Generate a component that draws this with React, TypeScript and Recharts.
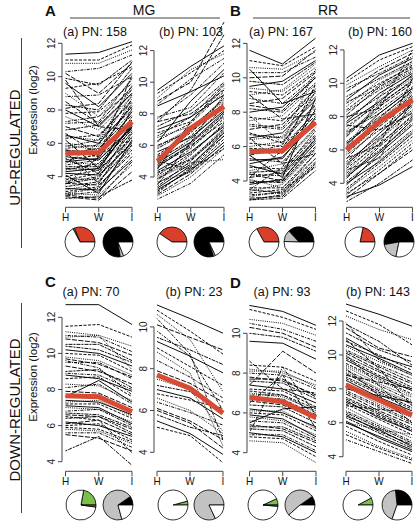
import React from 'react';
import { LineChart, Line, XAxis, YAxis, ReferenceLine, PieChart, Pie, Cell } from 'recharts';

const FONT = '"Liberation Sans", Arial, Helvetica, sans-serif';
const AXIS = '#444';
const RED = '#d84a33';

// stages on the x axis
const stages = ['H', 'W', 'I'];

// panel headings
const titlesUp = ['(a) PN: 158', '(b) PN: 103', '(a) PN: 167', '(b) PN: 160'];
const titlesDown = ['(a) PN: 70', '(b) PN: 23', '(a) PN: 93', '(b) PN: 143'];

// expression profiles [H, W, I] (log2), a readable subset of each panel
const upMgA = [
  [11.35, 11.45, 12.1], [11.0, 11.0, 11.9], [10.8, 10.8, 11.6], [10.3, 10.5, 11.3],
  [10.2, 9.0, 10.8], [9.9, 9.5, 11.0], [9.6, 8.2, 10.2], [9.3, 9.6, 10.6],
  [9.0, 7.6, 9.8], [8.8, 8.9, 10.0], [8.5, 7.2, 9.4], [8.3, 8.0, 10.5],
  [8.0, 7.0, 9.0], [7.8, 7.9, 9.6], [7.6, 6.8, 8.8], [7.3, 7.6, 9.2],
  [7.0, 6.4, 8.6], [6.8, 7.1, 9.0], [6.5, 6.0, 8.2], [6.3, 6.5, 8.5],
  [6.0, 5.8, 7.9], [5.8, 6.2, 8.0], [5.6, 5.4, 7.4], [5.4, 5.7, 7.7],
  [5.2, 5.0, 7.0], [5.0, 5.3, 7.3], [4.9, 4.7, 6.6], [4.7, 5.0, 6.9],
  [4.5, 4.4, 6.3], [4.4, 4.8, 6.8], [4.2, 4.1, 6.0], [4.0, 4.4, 6.4],
  [3.9, 3.8, 5.7], [3.7, 4.0, 6.1], [3.6, 3.5, 5.4], [3.4, 3.7, 5.9],
  [3.3, 3.2, 5.0], [3.1, 3.4, 5.6], [3.0, 2.9, 4.7], [2.9, 3.1, 5.2],
  [2.8, 2.6, 4.3], [2.7, 2.8, 3.8], [6.2, 4.5, 7.2], [5.5, 3.6, 6.6],
  [4.8, 6.0, 9.5], [3.5, 5.2, 8.7], [9.8, 7.0, 6.8], [5.1, 4.2, 8.1],
  [4.1, 3.0, 6.2], [6.6, 5.3, 10.1], [5.9, 5.6, 8.3], [5.7, 5.9, 8.9],
  [5.3, 5.5, 8.4], [4.6, 4.6, 7.6], [4.3, 4.5, 7.1], [3.8, 4.2, 6.7],
  [3.2, 3.6, 6.4], [3.0, 3.3, 5.9], [2.9, 2.7, 4.9], [3.6, 3.9, 7.0],
  [4.9, 5.1, 7.9], [5.6, 5.2, 6.9], [6.4, 6.2, 9.3], [7.2, 7.3, 9.9],
  [8.1, 8.4, 10.9],
];
const upMgB = [
  [9.5, 11.0, 12.3], [9.3, 10.6, 12.0], [9.0, 10.8, 11.8], [8.6, 10.2, 11.5],
  [8.8, 10.0, 13.8], [7.5, 9.5, 13.0], [8.5, 9.4, 10.4], [4.3, 5.1, 6.8],
  [3.7, 4.3, 6.0], [7.8, 8.4, 10.6], [7.5, 8.0, 9.5], [7.2, 8.2, 10.0],
  [7.0, 7.8, 9.2], [6.8, 7.5, 9.6], [6.5, 7.2, 8.8], [6.3, 7.4, 9.4],
  [6.0, 6.9, 8.5], [5.8, 7.0, 9.0], [5.6, 6.5, 8.2], [5.4, 6.8, 8.7],
  [5.2, 6.2, 7.8], [5.0, 6.4, 8.4], [4.8, 6.0, 7.5], [4.6, 6.1, 8.0],
  [4.4, 5.6, 7.2], [4.2, 5.8, 7.7], [4.0, 5.2, 6.9], [3.8, 5.4, 7.4],
  [3.6, 4.8, 6.6], [3.4, 5.0, 7.0], [3.2, 4.4, 6.2], [3.0, 4.6, 6.6],
  [2.8, 4.0, 5.8], [2.6, 3.6, 5.4], [4.5, 7.5, 9.8], [3.5, 6.2, 9.2],
  [6.2, 8.8, 10.8], [5.0, 4.5, 5.8], [3.9, 4.9, 5.1], [7.7, 9.2, 11.2],
  [4.7, 5.9, 7.9], [4.1, 5.5, 7.3], [3.3, 4.7, 6.8], [5.3, 6.6, 8.6],
  [5.9, 7.1, 8.9], [3.9, 5.1, 7.1], [2.9, 4.2, 6.0], [6.6, 7.8, 9.9],
  [4.9, 6.2, 8.1], [3.1, 4.5, 6.4],
];
const upRrA = [
  [11.6, 10.8, 12.3], [11.0, 10.7, 11.8], [10.6, 10.5, 11.5], [10.3, 10.3, 11.2],
  [10.0, 10.1, 11.6], [9.8, 9.6, 10.9], [9.5, 9.8, 11.0], [9.2, 9.0, 10.4],
  [9.0, 9.3, 10.8], [8.8, 8.5, 10.1], [8.5, 8.8, 10.3], [8.2, 8.0, 9.7],
  [8.0, 8.3, 10.0], [7.7, 7.5, 9.3], [7.5, 7.8, 9.6], [7.2, 7.0, 8.9],
  [7.0, 7.3, 9.1], [6.7, 6.5, 8.4], [6.5, 6.8, 8.7], [6.2, 6.0, 8.0],
  [6.0, 6.3, 8.3], [5.8, 5.6, 7.6], [5.5, 5.9, 7.8], [5.3, 5.1, 7.1],
  [5.0, 5.4, 7.4], [4.8, 4.7, 6.7], [4.6, 5.0, 7.0], [4.4, 4.3, 6.3],
  [4.2, 4.5, 6.6], [4.0, 3.9, 5.9], [3.8, 4.1, 6.2], [3.6, 3.6, 5.6],
  [3.4, 3.8, 5.8], [3.2, 3.3, 5.3], [3.0, 3.1, 4.9], [2.9, 3.0, 4.6],
  [5.5, 4.2, 8.8], [4.2, 5.8, 9.6], [7.8, 6.2, 10.5], [3.5, 4.8, 8.2],
  [9.0, 7.6, 7.9], [6.5, 5.0, 5.6], [10.5, 8.5, 9.2], [3.3, 3.5, 4.8],
  [4.1, 3.6, 5.3], [3.1, 3.4, 5.6], [3.9, 4.0, 6.5], [4.5, 4.6, 6.9],
  [5.2, 5.3, 7.7], [5.9, 5.8, 8.1], [6.4, 6.6, 8.9], [7.3, 7.1, 9.4],
  [8.4, 8.1, 10.0], [3.5, 3.3, 5.1], [4.9, 4.4, 6.4], [6.8, 6.2, 8.5],
  [9.4, 9.2, 10.6], [5.6, 6.1, 9.2], [4.4, 4.0, 6.0], [2.9, 3.2, 5.0],
];
const upRrB = [
  [10.3, 11.7, 12.4], [10.1, 11.4, 12.2], [9.9, 11.0, 12.0], [9.7, 10.6, 11.6],
  [9.5, 10.8, 11.8], [9.2, 10.3, 11.3], [9.0, 10.5, 11.5], [8.8, 10.0, 11.0],
  [8.6, 10.2, 11.2], [8.3, 9.6, 10.7], [8.1, 9.8, 10.9], [7.9, 9.2, 10.4],
  [7.7, 9.4, 10.6], [7.4, 8.8, 10.1], [7.2, 9.0, 10.3], [7.0, 8.4, 9.8],
  [6.8, 8.6, 10.0], [6.5, 8.0, 9.5], [6.3, 8.2, 9.7], [6.1, 7.6, 9.1],
  [5.9, 7.8, 9.4], [5.7, 7.2, 8.8], [5.5, 7.4, 9.0], [5.3, 6.8, 8.4],
  [5.1, 7.0, 8.7], [4.9, 6.4, 8.0], [4.7, 6.6, 8.3], [4.5, 6.0, 7.6],
  [4.3, 6.2, 7.9], [4.1, 5.6, 7.2], [3.9, 5.8, 7.5], [3.7, 5.2, 6.8],
  [3.5, 5.4, 7.1], [3.3, 4.8, 6.4], [3.1, 4.6, 6.0], [2.9, 4.0, 5.4],
  [3.2, 3.9, 5.0], [8.0, 8.5, 12.0], [6.0, 9.2, 11.4], [4.8, 5.5, 9.0],
  [7.5, 7.2, 8.2], [5.5, 6.3, 10.3], [4.0, 5.3, 7.0], [4.6, 6.3, 8.1],
  [5.2, 6.6, 8.6], [5.8, 7.5, 9.2], [6.4, 7.9, 9.6], [6.9, 8.7, 10.2],
  [7.6, 8.9, 10.5], [8.4, 9.9, 11.1], [3.6, 5.0, 6.6], [5.0, 6.7, 8.9],
  [6.2, 7.7, 9.3], [7.1, 8.2, 9.7], [4.4, 5.9, 7.8], [3.4, 4.6, 6.2],
  [8.9, 9.7, 10.8],
];
const downMgA = [
  [12.7, 12.7, 11.6], [11.5, 11.6, 10.9], [11.2, 11.0, 10.4], [11.0, 10.9, 10.1],
  [10.8, 10.6, 9.9], [10.5, 10.5, 9.6], [10.2, 10.0, 9.3], [10.0, 9.9, 9.0],
  [9.8, 9.6, 8.8], [9.5, 9.5, 8.6], [9.3, 9.0, 8.3], [9.0, 9.1, 8.1],
  [8.8, 8.6, 7.9], [8.6, 8.7, 7.6], [8.3, 8.2, 7.4], [8.1, 8.3, 7.2],
  [7.9, 7.8, 7.0], [7.6, 7.7, 6.8], [7.4, 7.3, 6.6], [7.2, 7.2, 6.4],
  [7.0, 6.9, 6.2], [6.8, 6.9, 6.0], [6.6, 6.5, 5.8], [6.4, 6.5, 5.6],
  [6.2, 6.0, 5.4], [6.0, 6.1, 5.2], [5.8, 5.7, 5.0], [5.6, 5.6, 4.8],
  [5.5, 5.3, 4.6], [4.6, 5.4, 3.8], [7.6, 8.5, 7.3], [6.5, 6.3, 4.5],
  [10.9, 11.0, 9.1], [9.6, 9.2, 7.7], [6.1, 6.3, 5.5], [6.7, 6.6, 5.9],
  [7.1, 7.0, 6.1], [5.9, 5.8, 5.1], [7.3, 7.4, 6.5], [8.9, 8.8, 8.0],
  [9.7, 9.4, 8.7], [10.4, 10.2, 9.5],
];
const downMgB = [
  [11.05, 10.4, 9.7], [10.8, 9.8, 8.7], [10.6, 9.4, 6.9], [10.4, 8.7, 4.6],
  [10.1, 9.5, 8.9], [9.5, 8.9, 8.2], [9.3, 8.6, 7.8], [9.0, 8.1, 7.2],
  [8.8, 7.8, 4.3], [8.4, 7.6, 6.6], [7.9, 7.3, 6.4], [7.2, 6.9, 5.9],
  [7.0, 6.6, 5.6], [6.8, 6.5, 6.1], [6.6, 6.0, 4.9], [6.4, 5.9, 5.3],
  [6.1, 5.5, 4.6], [5.8, 5.2, 4.8], [5.5, 4.9, 3.9], [5.2, 4.8, 3.5],
  [7.5, 7.0, 5.0], [9.8, 8.6, 6.0], [6.0, 5.4, 4.2],
];
const downRrA = [
  [11.4, 11.1, 10.4], [11.2, 10.8, 10.2], [10.7, 10.5, 9.9], [10.5, 10.2, 9.6],
  [10.3, 10.0, 9.3], [10.0, 9.8, 9.1], [9.6, 9.5, 8.7], [8.4, 8.3, 7.6],
  [8.2, 8.0, 7.4], [8.0, 7.9, 7.2], [7.8, 7.6, 6.9], [7.6, 7.5, 6.7],
  [7.4, 7.2, 6.5], [7.2, 7.1, 6.3], [7.0, 6.8, 6.1], [6.8, 6.7, 5.9],
  [6.6, 6.4, 5.7], [6.4, 6.3, 5.5], [6.2, 6.0, 5.3], [6.0, 5.9, 5.1],
  [5.8, 5.6, 4.9], [5.6, 5.5, 4.7], [5.4, 5.2, 4.5], [5.2, 5.1, 4.3],
  [5.0, 4.8, 4.0], [4.8, 4.7, 3.8], [4.6, 4.5, 3.5], [5.0, 8.3, 5.9],
  [7.4, 9.1, 8.0], [6.5, 7.9, 5.2], [5.5, 6.2, 6.3], [8.6, 7.2, 7.0],
  [6.1, 6.1, 5.2], [6.9, 6.9, 6.0], [7.7, 7.7, 6.8], [5.3, 5.3, 4.6],
  [5.9, 5.7, 4.8], [7.1, 6.9, 6.2], [8.1, 8.1, 7.3], [4.9, 4.9, 4.1],
];
const downRrB = [
  [13.0, 12.4, 11.7], [12.6, 11.8, 10.6], [12.3, 11.5, 10.9], [11.9, 9.7, 8.8],
  [11.6, 10.4, 9.9], [11.3, 10.3, 9.6], [11.0, 9.9, 9.3], [10.8, 10.0, 9.1],
  [10.5, 9.6, 8.8], [10.3, 9.4, 8.6], [10.1, 9.1, 8.3], [9.9, 9.0, 8.1],
  [9.7, 8.7, 7.9], [9.5, 8.6, 7.7], [9.3, 8.3, 7.5], [9.1, 8.2, 7.3],
  [8.9, 7.9, 7.1], [8.7, 7.8, 6.9], [8.5, 7.5, 6.7], [8.3, 7.4, 6.5],
  [8.1, 7.1, 6.3], [7.9, 7.0, 6.1], [7.7, 6.7, 5.9], [7.5, 6.6, 5.7],
  [7.3, 6.3, 5.5], [7.1, 6.2, 5.3], [6.9, 5.9, 5.1], [6.7, 5.8, 4.9],
  [6.5, 5.5, 4.7], [6.3, 5.4, 4.5], [6.1, 5.1, 4.3], [5.8, 4.9, 4.1],
  [5.5, 4.6, 3.9], [5.0, 4.3, 3.6], [10.9, 9.2, 7.0], [9.2, 7.6, 6.0],
  [8.0, 7.6, 7.2], [7.0, 6.8, 6.6], [6.0, 5.6, 5.3], [10.0, 8.2, 6.4],
  [8.8, 8.4, 8.0], [11.8, 10.8, 9.4], [10.6, 9.8, 8.9], [9.8, 8.8, 8.0],
  [9.0, 8.0, 7.2], [8.2, 7.3, 6.4], [7.4, 6.5, 5.6], [6.6, 5.7, 4.8],
  [6.0, 5.2, 4.4], [8.6, 7.7, 6.8], [9.4, 8.5, 7.6], [7.8, 6.9, 6.0],
  [7.2, 6.4, 5.5], [10.2, 9.3, 8.4], [6.4, 5.6, 4.6], [5.3, 4.5, 3.8],
];

// mean profiles (red)
const meanUpMgA = [5.4, 5.45, 7.3];
const meanUpMgB = [5.0, 7.1, 8.45];
const meanUpRrA = [5.7, 5.76, 7.4];
const meanUpRrB = [6.0, 7.7, 9.0];
const meanDownMgA = [7.66, 7.6, 6.77];
const meanDownMgB = [7.7, 7.06, 5.87];
const meanDownRrA = [6.78, 6.56, 5.76];
const meanDownRrB = [8.23, 7.34, 6.46];

// y ticks
const ticksTo12 = [4, 6, 8, 10, 12];
const ticksTo10 = [4, 6, 8, 10];

// pie shares (%)
const pieUpMgA1 = [{ name: 'up', value: 31.1 }, { name: 'down', value: 1.7 }, { name: 'none', value: 67.2 }];
const pieUpMgA2 = [{ name: 'dark', value: 77.5 }, { name: 'grey', value: 3.6 }, { name: 'none', value: 18.9 }];
const pieUpMgB1 = [{ name: 'up', value: 40.5 }, { name: 'none', value: 59.5 }];
const pieUpMgB2 = [{ name: 'dark', value: 80 }, { name: 'grey', value: 2 }, { name: 'none', value: 18 }];
const pieUpRrA1 = [{ name: 'up', value: 33 }, { name: 'none', value: 67 }];
const pieUpRrA2 = [{ name: 'dark', value: 37 }, { name: 'grey', value: 12.5 }, { name: 'none', value: 50.5 }];
const pieUpRrB1 = [{ name: 'up', value: 21.7 }, { name: 'none', value: 78.3 }];
const pieUpRrB2 = [{ name: 'dark', value: 52.8 }, { name: 'grey', value: 18.9 }, { name: 'none', value: 28.3 }];
const pieDownMgA1 = [{ name: 'down', value: 22.2 }, { name: 'none', value: 75.6 }, { name: 'up', value: 2.2 }];
const pieDownMgA2 = [{ name: 'dark', value: 9.7 }, { name: 'grey', value: 69.5 }, { name: 'none', value: 20.8 }];
const pieDownMgB1 = [{ name: 'down', value: 4.2 }, { name: 'none', value: 95.8 }];
const pieDownMgB2 = [{ name: 'grey', value: 82 }, { name: 'none', value: 18 }];
const pieDownRrA1 = [{ name: 'down', value: 6.9 }, { name: 'none', value: 91.7 }, { name: 'up', value: 1.4 }];
const pieDownRrA2 = [{ name: 'dark', value: 9.7 }, { name: 'grey', value: 51.9 }, { name: 'none', value: 38.4 }];
const pieDownRrB1 = [{ name: 'down', value: 7.8 }, { name: 'none', value: 92.2 }];
const pieDownRrB2 = [{ name: 'dark', value: 26.7 }, { name: 'grey', value: 43 }, { name: 'none', value: 30.3 }];

const PIE_FILL: { [k: string]: string } = {
  up: '#d8402b',
  down: '#7cc04b',
  dark: '#000000',
  grey: '#c2c2c2',
  none: '#ffffff',
};

// R's lty cycle
const DASHES = [undefined, '3 1.5', '1 1.2', '1 1.2 3 1.2', '5 1.5', '2 1 4 1'];

const renderYTick = (props: any) => {
  const { x, y, payload } = props;
  return (
    <text
      x={x}
      y={y}
      transform={`rotate(-90 ${x} ${y})`}
      textAnchor="middle"
      fontSize={10}
      fontFamily={FONT}
      fill="#222"
    >
      {payload.value}
    </text>
  );
};

interface PanelProps {
  lines: number[][];
  mean: number[];
  ticks: number[];
  axisX: number;
  hX: number;
  iX: number;
  top: number;
  bottom: number;
  y4: number;
  k: number;
}

function Panel({ lines, mean, ticks, axisX, hX, iX, top, bottom, y4, k }: PanelProps) {
  const yAxisW = 24;
  const xAxisH = 24;
  const u = (iX - hX) / 2;
  const x0 = -(hX - axisX) / u;
  const x1 = 2 + 3 / u;
  const yMin = 4 - (bottom - y4) / k;
  const yMax = 4 + (y4 - top) / k;
  const width = yAxisW + (iX + 3 - axisX);
  const height = bottom - top + xAxisH;

  const data = stages.map((s, j) => {
    const row: any = { x: j, stage: s, mean: mean[j] };
    lines.forEach((l, i) => {
      row['g' + i] = l[j];
    });
    return row;
  });

  return (
    <div style={{ position: 'absolute', left: axisX - yAxisW, top }}>
      <LineChart width={width} height={height} data={data} margin={{ top: 0, right: 0, bottom: 0, left: 0 }}>
        <XAxis
          dataKey="x"
          type="number"
          domain={[x0, x1]}
          allowDataOverflow
          ticks={[0, 1, 2]}
          interval={0}
          tickFormatter={(v: number) => stages[Math.round(v)]}
          axisLine={false}
          tickLine={{ stroke: AXIS, strokeWidth: 1 }}
          tickSize={5}
          tickMargin={2}
          height={xAxisH}
          tick={{ fontSize: 10, fill: '#111', fontFamily: FONT }}
        />
        <YAxis
          type="number"
          domain={[yMin, yMax]}
          allowDataOverflow
          ticks={ticks}
          interval={0}
          axisLine={false}
          tickLine={{ stroke: AXIS, strokeWidth: 1 }}
          tickSize={4}
          tickMargin={3}
          width={yAxisW}
          tick={renderYTick}
        />
        {lines.map((_, i) => (
          <Line
            key={i}
            dataKey={'g' + i}
            type="linear"
            stroke="#000"
            strokeWidth={0.95}
            strokeDasharray={DASHES[i % DASHES.length]}
            dot={false}
            activeDot={false}
            isAnimationActive={false}
          />
        ))}
        <Line
          dataKey="mean"
          type="linear"
          stroke={RED}
          strokeWidth={5}
          strokeLinejoin="round"
          dot={false}
          activeDot={false}
          isAnimationActive={false}
        />
        <ReferenceLine
          segment={[{ x: x0, y: 4 }, { x: x0, y: ticks[ticks.length - 1] }]}
          stroke={AXIS}
          strokeWidth={1}
          ifOverflow="visible"
        />
        <ReferenceLine
          segment={[{ x: 0, y: yMin }, { x: 2, y: yMin }]}
          stroke={AXIS}
          strokeWidth={1}
          ifOverflow="visible"
        />
      </LineChart>
    </div>
  );
}

function MiniPie({ data, cx, cy }: { data: { name: string; value: number }[]; cx: number; cy: number }) {
  return (
    <div style={{ position: 'absolute', left: cx - 17, top: cy - 17 }}>
      <PieChart width={34} height={34} margin={{ top: 0, right: 0, bottom: 0, left: 0 }}>
        <Pie
          data={data}
          dataKey="value"
          cx={17}
          cy={17}
          outerRadius={15}
          startAngle={0}
          endAngle={360}
          stroke="#000"
          strokeWidth={0.8}
          isAnimationActive={false}
        >
          {data.map((d, i) => (
            <Cell key={i} fill={PIE_FILL[d.name]} />
          ))}
        </Pie>
      </PieChart>
    </div>
  );
}

export default function App() {
  const topB = 207.3;
  const botB = 471.3;
  return (
    <div style={{ position: 'absolute', left: 0, top: 0, width: 415, height: 523, background: '#fff', fontFamily: FONT }}>
      <svg width={415} height={523} style={{ position: 'absolute', left: 0, top: 0 }}>
        <g fontFamily={FONT} fill="#111">
          <text x={45} y={16} fontSize={15} fontWeight="bold">A</text>
          <text x={144} y={15} fontSize={14} textAnchor="middle">MG</text>
          <line x1={70} x2={220} y1={18} y2={18} stroke={AXIS} />
          <text x={230} y={16} fontSize={15} fontWeight="bold">B</text>
          <text x={328} y={15} fontSize={14} textAnchor="middle">RR</text>
          <line x1={253} x2={410} y1={18} y2={18} stroke={AXIS} />

          <text x={95} y={35.5} fontSize={12.5} textAnchor="middle">{titlesUp[0]}</text>
          <text x={191} y={35.5} fontSize={12.5} textAnchor="middle">{titlesUp[1]}</text>
          <text x={281} y={35.5} fontSize={12.5} textAnchor="middle">{titlesUp[2]}</text>
          <text x={380} y={35.5} fontSize={12.5} textAnchor="middle">{titlesUp[3]}</text>

          <text x={45} y={287} fontSize={15} fontWeight="bold">C</text>
          <text x={230} y={288} fontSize={15} fontWeight="bold">D</text>
          <text x={91} y={296} fontSize={12.5} textAnchor="middle">{titlesDown[0]}</text>
          <text x={194} y={296} fontSize={12.5} textAnchor="middle">{titlesDown[1]}</text>
          <text x={282} y={296} fontSize={12.5} textAnchor="middle">{titlesDown[2]}</text>
          <text x={378} y={296} fontSize={12.5} textAnchor="middle">{titlesDown[3]}</text>

          <text x={19.5} y={147.5} fontSize={15} textAnchor="middle" transform="rotate(-90 19.5 147.5)">UP-REGULATED</text>
          <line x1={21.5} x2={21.5} y1={38} y2={248} stroke={AXIS} />
          <text x={19.5} y={410} fontSize={15} textAnchor="middle" transform="rotate(-90 19.5 410)">DOWN-REGULATED</text>
          <line x1={21.5} x2={21.5} y1={303} y2={513} stroke={AXIS} />

          <text x={36.5} y={110} fontSize={11.5} textAnchor="middle" transform="rotate(-90 36.5 110)">Expression (log2)</text>
          <text x={36.5} y={377} fontSize={11.5} textAnchor="middle" transform="rotate(-90 36.5 377)">Expression (log2)</text>
        </g>
      </svg>

      <Panel lines={upMgA} mean={meanUpMgA} ticks={ticksTo12} axisX={62} hX={65.5} iX={132} top={36} bottom={topB} y4={176.7} k={16.67} />
      <Panel lines={upMgB} mean={meanUpMgB} ticks={ticksTo12} axisX={154} hX={157.5} iX={224} top={18} bottom={topB} y4={177} k={15.8} />
      <Panel lines={upRrA} mean={meanUpRrA} ticks={ticksTo12} axisX={247} hX={249.5} iX={315.5} top={36} bottom={topB} y4={181} k={17.2} />
      <Panel lines={upRrB} mean={meanUpRrB} ticks={ticksTo12} axisX={343.5} hX={346} iX={412} top={38} bottom={topB} y4={183.3} k={16.67} />

      <Panel lines={downMgA} mean={meanDownMgA} ticks={ticksTo12} axisX={62} hX={65.5} iX={132} top={300} bottom={botB} y4={461.7} k={18.05} />
      <Panel lines={downMgB} mean={meanDownMgB} ticks={ticksTo10} axisX={154} hX={157} iX={223} top={300} bottom={botB} y4={452.3} k={20.9} />
      <Panel lines={downRrA} mean={meanDownRrA} ticks={ticksTo10} axisX={246.5} hX={249} iX={315.5} top={300} bottom={botB} y4={452.7} k={19.9} />
      <Panel lines={downRrB} mean={meanDownRrB} ticks={ticksTo12} axisX={343} hX={346} iX={412} top={300} bottom={botB} y4={456.7} k={16.96} />

      <MiniPie data={pieUpMgA1} cx={80} cy={241.7} />
      <MiniPie data={pieUpMgA2} cx={117.7} cy={241.7} />
      <MiniPie data={pieUpMgB1} cx={172.3} cy={241.7} />
      <MiniPie data={pieUpMgB2} cx={209} cy={241.7} />
      <MiniPie data={pieUpRrA1} cx={264} cy={241.7} />
      <MiniPie data={pieUpRrA2} cx={299.3} cy={241.7} />
      <MiniPie data={pieUpRrB1} cx={360} cy={241.7} />
      <MiniPie data={pieUpRrB2} cx={399} cy={241.7} />

      <MiniPie data={pieDownMgA1} cx={81} cy={505.3} />
      <MiniPie data={pieDownMgA2} cx={118.3} cy={505.3} />
      <MiniPie data={pieDownMgB1} cx={172.7} cy={505.3} />
      <MiniPie data={pieDownMgB2} cx={209} cy={505.3} />
      <MiniPie data={pieDownRrA1} cx={263.3} cy={505.3} />
      <MiniPie data={pieDownRrA2} cx={300} cy={505.3} />
      <MiniPie data={pieDownRrB1} cx={358.3} cy={505.3} />
      <MiniPie data={pieDownRrB2} cx={396.7} cy={505.3} />
    </div>
  );
}
